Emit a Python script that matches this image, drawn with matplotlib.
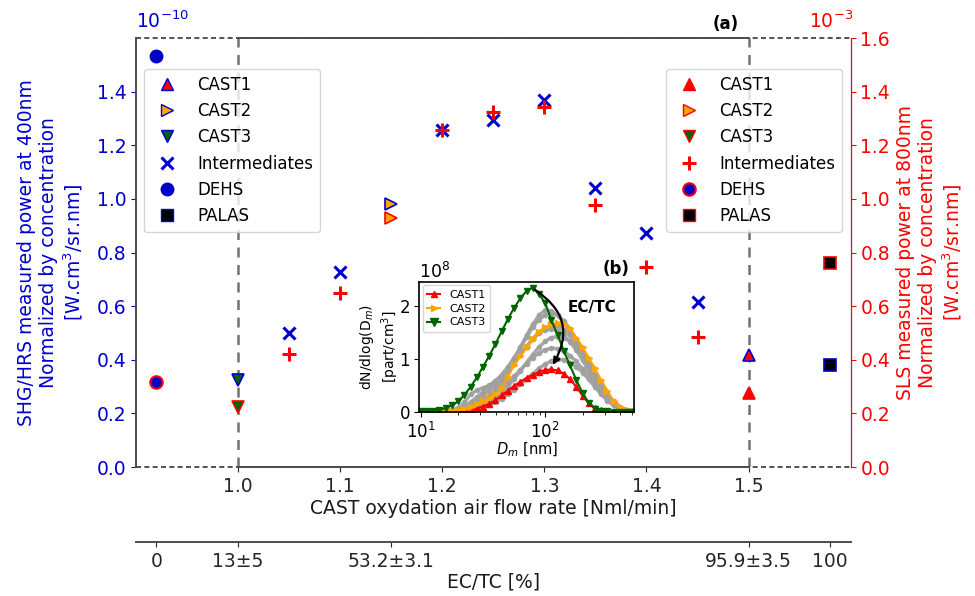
import matplotlib
matplotlib.use("Agg")
import matplotlib.pyplot as plt
from matplotlib.lines import Line2D

BLUE = "#0000CD"
RED = "#FF0000"
ORANGE = "#FFA500"
GREEN = "#006400"

# main plot data (units: 1e-10 left axis, 1e-3 right axis)
flow_cast = [1.5, 1.15, 1.0]          # CAST1, CAST2, CAST3
shg_cast = [0.417, 0.98, 0.323]
sls_cast = [0.276, 0.927, 0.224]
flow_int = [1.05, 1.1, 1.2, 1.25, 1.3, 1.35, 1.4, 1.45]
shg_int = [0.50, 0.727, 1.256, 1.294, 1.37, 1.039, 0.871, 0.616]
sls_int = [0.42, 0.65, 1.256, 1.325, 1.341, 0.977, 0.746, 0.485]
flow_dehs, shg_dehs, sls_dehs = 0.92, 1.532, 0.317
flow_palas, shg_palas, sls_palas = 1.58, 0.379, 0.761

ectc_pos = [0.92, 1.0, 1.15, 1.5, 1.58]
ectc_lab = ["0", "13±5", "53.2±3.1", "95.9±3.5", "100"]

# inset: size distributions (units 1e8 part/cm3)
dm = [10.0, 11.2, 12.6, 14.1, 15.8, 17.8, 20.0, 22.4, 25.1, 28.2, 31.6, 35.5,
      39.8, 44.7, 50.1, 56.2, 63.1, 70.8, 79.4, 89.1, 100, 112, 126, 141, 158,
      178, 200, 224, 251, 282, 316, 355, 398, 447, 501]
cast1 = [0.0, 0.0, 0.0, 0.0, 0.0, 0.0, 0.01, 0.02, 0.04, 0.07, 0.1, 0.15,
         0.22, 0.31, 0.4, 0.49, 0.57, 0.64, 0.7, 0.75, 0.79, 0.8, 0.78, 0.72,
         0.62, 0.47, 0.3, 0.16, 0.08, 0.03, 0.01, 0.0, 0.0, 0.0, 0.0]
cast2 = [0.0, 0.0, 0.0, 0.01, 0.01, 0.02, 0.04, 0.06, 0.1, 0.15, 0.2, 0.26,
         0.33, 0.45, 0.66, 0.88, 1.05, 1.22, 1.37, 1.5, 1.6, 1.65, 1.68, 1.66,
         1.58, 1.4, 1.22, 1.02, 0.82, 0.6, 0.4, 0.2, 0.09, 0.03, 0.01]
cast3 = [0.01, 0.01, 0.02, 0.04, 0.07, 0.12, 0.2, 0.32, 0.47, 0.65, 0.85, 1.06,
         1.28, 1.52, 1.75, 1.96, 2.14, 2.28, 2.34, 2.22, 2.05, 1.73, 1.45, 1.15,
         0.88, 0.6, 0.35, 0.17, 0.06, 0.02, 0.01, 0.0, 0.0, 0.0, 0.0]
grey = [
    [0.0, 0.0, 0.0, 0.0, 0.01, 0.03, 0.08, 0.18, 0.33, 0.41, 0.45, 0.5, 0.58,
     0.7, 0.85, 1.02, 1.22, 1.44, 1.65, 1.82, 1.92, 1.9, 1.82, 1.68, 1.5, 1.28,
     1.05, 0.82, 0.6, 0.42, 0.27, 0.15, 0.07, 0.03, 0.01],
    [0.0, 0.0, 0.0, 0.0, 0.01, 0.01, 0.02, 0.04, 0.07, 0.11, 0.18, 0.28, 0.41,
     0.57, 0.77, 0.98, 1.2, 1.41, 1.6, 1.74, 1.82, 1.85, 1.82, 1.72, 1.56, 1.36,
     1.13, 0.9, 0.67, 0.47, 0.3, 0.17, 0.08, 0.03, 0.01],
    [0.0, 0.0, 0.0, 0.0, 0.01, 0.02, 0.05, 0.1, 0.18, 0.28, 0.38, 0.48, 0.58,
     0.68, 0.8, 0.94, 1.08, 1.23, 1.37, 1.48, 1.55, 1.56, 1.52, 1.44, 1.32,
     1.16, 0.97, 0.77, 0.57, 0.39, 0.25, 0.14, 0.07, 0.03, 0.01],
    [0.0, 0.0, 0.0, 0.0, 0.0, 0.01, 0.02, 0.03, 0.05, 0.08, 0.12, 0.18, 0.26,
     0.36, 0.48, 0.62, 0.77, 0.93, 1.08, 1.22, 1.33, 1.4, 1.42, 1.4, 1.34,
     1.23, 1.08, 0.9, 0.7, 0.5, 0.33, 0.2, 0.1, 0.04, 0.01],
    [0.0, 0.0, 0.0, 0.0, 0.01, 0.02, 0.04, 0.07, 0.11, 0.16, 0.22, 0.29, 0.37,
     0.46, 0.56, 0.67, 0.79, 0.91, 1.02, 1.11, 1.17, 1.2, 1.19, 1.14, 1.06,
     0.95, 0.81, 0.66, 0.5, 0.35, 0.23, 0.13, 0.06, 0.02, 0.01],
    [0.0, 0.0, 0.0, 0.0, 0.0, 0.01, 0.01, 0.02, 0.04, 0.06, 0.09, 0.13, 0.18,
     0.25, 0.33, 0.42, 0.52, 0.62, 0.72, 0.82, 0.9, 0.96, 0.99, 0.98, 0.93,
     0.85, 0.74, 0.61, 0.47, 0.33, 0.21, 0.12, 0.06, 0.02, 0.01],
    [0.0, 0.0, 0.0, 0.0, 0.01, 0.03, 0.06, 0.1, 0.16, 0.23, 0.31, 0.4, 0.5,
     0.62, 0.76, 0.91, 1.07, 1.23, 1.38, 1.5, 1.58, 1.62, 1.61, 1.55, 1.44,
     1.29, 1.1, 0.89, 0.67, 0.47, 0.3, 0.17, 0.08, 0.03, 0.01],
]

fig = plt.figure(figsize=(9.75, 5.96), dpi=100)
ax = fig.add_axes([0.1395, 0.2164, 0.733, 0.7198])
axr = ax.twinx()

ms = 9
# left axis (SHG), blue edges
ax.plot(flow_cast[0], shg_cast[0], "^", ms=ms, mfc=RED, mec=BLUE, mew=1.2, ls="none")
ax.plot(flow_cast[1], shg_cast[1], ">", ms=ms, mfc=ORANGE, mec=BLUE, mew=1.2, ls="none")
ax.plot(flow_cast[2], shg_cast[2], "v", ms=ms, mfc=GREEN, mec=BLUE, mew=1.2, ls="none")
ax.plot(flow_int, shg_int, "x", ms=ms, color=BLUE, mew=2.2, ls="none")
ax.plot(flow_dehs, shg_dehs, "o", ms=ms, mfc=BLUE, mec=BLUE, ls="none")
ax.plot(flow_palas, shg_palas, "s", ms=ms, mfc="black", mec=BLUE, mew=1.2, ls="none")

# right axis (SLS), red edges
axr.plot(flow_cast[0], sls_cast[0], "^", ms=ms, mfc=RED, mec=RED, mew=1.2, ls="none")
axr.plot(flow_cast[1], sls_cast[1], ">", ms=ms, mfc=ORANGE, mec=RED, mew=1.2, ls="none")
axr.plot(flow_cast[2], sls_cast[2], "v", ms=ms, mfc=GREEN, mec=RED, mew=1.2, ls="none")
axr.plot(flow_int, sls_int, "+", ms=ms + 1, color=RED, mew=2.2, ls="none")
axr.plot(flow_dehs, sls_dehs, "o", ms=ms, mfc=BLUE, mec=RED, mew=1.5, ls="none")
axr.plot(flow_palas, sls_palas, "s", ms=ms, mfc="black", mec=RED, mew=1.2, ls="none")

ax.set_xlim(0.9, 1.6)
ax.set_ylim(0, 1.6)
axr.set_ylim(0, 1.6)

for xv in (1.0, 1.5):
    ax.axvline(xv, color="0.45", ls=(0, (4, 3)), lw=1.8, zorder=0)
ax.axhline(0, color="0.2", ls=(0, (3, 2)), lw=1.2, clip_on=False)
ax.axhline(1.6, color="0.2", ls=(0, (3, 2)), lw=1.2, clip_on=False)
for s in ("top", "bottom"):
    ax.spines[s].set_bounds(1.0, 1.5)
    ax.spines[s].set_color("0.3")
    ax.spines[s].set_linewidth(1.4)
ax.spines["left"].set_color("0.3")
ax.spines["left"].set_linewidth(1.4)
axr.spines["top"].set_visible(False)
axr.spines["bottom"].set_visible(False)
axr.spines["left"].set_visible(False)
axr.spines["right"].set_color(RED)

fs = 13.5
ax.set_xticks([1.0, 1.1, 1.2, 1.3, 1.4, 1.5])
ax.tick_params(axis="x", labelsize=fs, colors="0.15")
ax.set_yticks([0, 0.2, 0.4, 0.6, 0.8, 1.0, 1.2, 1.4])
ax.tick_params(axis="y", labelsize=fs, colors=BLUE)
axr.set_yticks([0, 0.2, 0.4, 0.6, 0.8, 1.0, 1.2, 1.4, 1.6])
axr.tick_params(axis="y", labelsize=fs, colors=RED)
ax.set_xlabel("CAST oxydation air flow rate [Nml/min]", fontsize=fs, color="0.1", labelpad=2)
ax.set_ylabel("SHG/HRS measured power at 400nm\nNormalized by concentration\n[W.cm$^3$/sr.nm]",
              fontsize=fs, color=BLUE, labelpad=8)
axr.set_ylabel("SLS measured power at 800nm\nNormalized by concentration\n[W.cm$^3$/sr.nm]",
               fontsize=fs, color=RED, labelpad=4)

ax.text(0.0, 1.015, "$10^{-10}$", transform=ax.transAxes, color=BLUE, fontsize=fs,
        ha="left", va="bottom")
axr.text(1.003, 1.015, "$10^{-3}$", transform=axr.transAxes, color=RED, fontsize=fs,
         ha="right", va="bottom")
ax.text(1.49, 1.62, "(a)", fontsize=12, fontweight="bold", ha="right", va="bottom")

# EC/TC secondary axis
axb = ax.twiny()
axb.set_xlim(ax.get_xlim())
axb.xaxis.set_ticks_position("bottom")
axb.xaxis.set_label_position("bottom")
axb.spines["bottom"].set_position(("outward", 54))
for s in ("top", "left", "right"):
    axb.spines[s].set_visible(False)
axb.spines["bottom"].set_color("0.3")
axb.spines["bottom"].set_linewidth(1.4)
axb.set_xticks(ectc_pos)
axb.set_xticklabels(ectc_lab)
axb.tick_params(axis="x", labelsize=fs, colors="0.15")
axb.set_xlabel("EC/TC [%]", fontsize=fs, color="0.1", labelpad=1)

# legends
lh = [
    Line2D([], [], marker="^", ls="none", ms=ms, mfc=RED, mec=BLUE),
    Line2D([], [], marker=">", ls="none", ms=ms, mfc=ORANGE, mec=BLUE),
    Line2D([], [], marker="v", ls="none", ms=ms, mfc=GREEN, mec=BLUE),
    Line2D([], [], marker="x", ls="none", ms=ms, color=BLUE, mew=2.2),
    Line2D([], [], marker="o", ls="none", ms=ms, mfc=BLUE, mec=BLUE),
    Line2D([], [], marker="s", ls="none", ms=ms, mfc="black", mec=BLUE),
]
rh = [
    Line2D([], [], marker="^", ls="none", ms=ms, mfc=RED, mec=RED),
    Line2D([], [], marker=">", ls="none", ms=ms, mfc=ORANGE, mec=RED),
    Line2D([], [], marker="v", ls="none", ms=ms, mfc=GREEN, mec=RED),
    Line2D([], [], marker="+", ls="none", ms=ms + 1, color=RED, mew=2.2),
    Line2D([], [], marker="o", ls="none", ms=ms, mfc=BLUE, mec=RED, mew=1.5),
    Line2D([], [], marker="s", ls="none", ms=ms, mfc="black", mec=RED),
]
labels = ["CAST1", "CAST2", "CAST3", "Intermediates", "DEHS", "PALAS"]
leg1 = axr.legend(lh, labels, loc="upper left", bbox_to_anchor=(0.011, 0.928),
                  borderaxespad=0, fontsize=12)
axr.add_artist(leg1)
axr.legend(rh, labels, loc="upper right", bbox_to_anchor=(0.988, 0.928),
           borderaxespad=0, fontsize=12)

# inset
axi = fig.add_axes([0.430, 0.309, 0.2205, 0.218])
for g in grey:
    axi.plot(dm, g, "o-", color="#a0a0a0", ms=3, lw=2.5, alpha=0.9)
axi.plot(dm, cast1, "^-", color=RED, ms=4, lw=1.5, label="CAST1")
axi.plot(dm, cast2, ">-", color=ORANGE, ms=4, lw=1.5, label="CAST2")
axi.plot(dm, cast3, "v-", color=GREEN, ms=4.5, lw=1.5, label="CAST3")
axi.set_xscale("log")
axi.set_xlim(9.7, 520)
axi.set_ylim(0, 2.45)
axi.set_yticks([0, 1, 2])
axi.tick_params(axis="x", labelsize=12, pad=4)
axi.tick_params(axis="y", labelsize=12, pad=3)
axi.set_xlabel("$D_m$ [nm]", fontsize=10.5, labelpad=-1)
axi.set_ylabel("dN/dlog(D$_m$)\n[part/cm$^3$]", fontsize=10, labelpad=-1)
axi.legend(loc="upper left", fontsize=8, markerscale=1.2, handlelength=1.2,
           borderaxespad=0.3, labelspacing=0.35)
axi.text(0.0, 1.0, "$10^8$", transform=axi.transAxes, fontsize=12.5, ha="left", va="bottom")
axi.text(0.98, 1.03, "(b)", transform=axi.transAxes, fontsize=12, fontweight="bold",
         ha="right", va="bottom")
axi.text(0.805, 0.8, "EC/TC", transform=axi.transAxes, fontsize=11, fontweight="bold",
         ha="center", va="center")
axi.annotate("", xy=(112, 0.84), xytext=(79, 2.33),
             arrowprops=dict(arrowstyle="-|>", color="black", lw=1.6,
                             connectionstyle="arc3,rad=-0.5"))
for s in axi.spines.values():
    s.set_linewidth(1.2)

fig.savefig("out.png", dpi=100)
